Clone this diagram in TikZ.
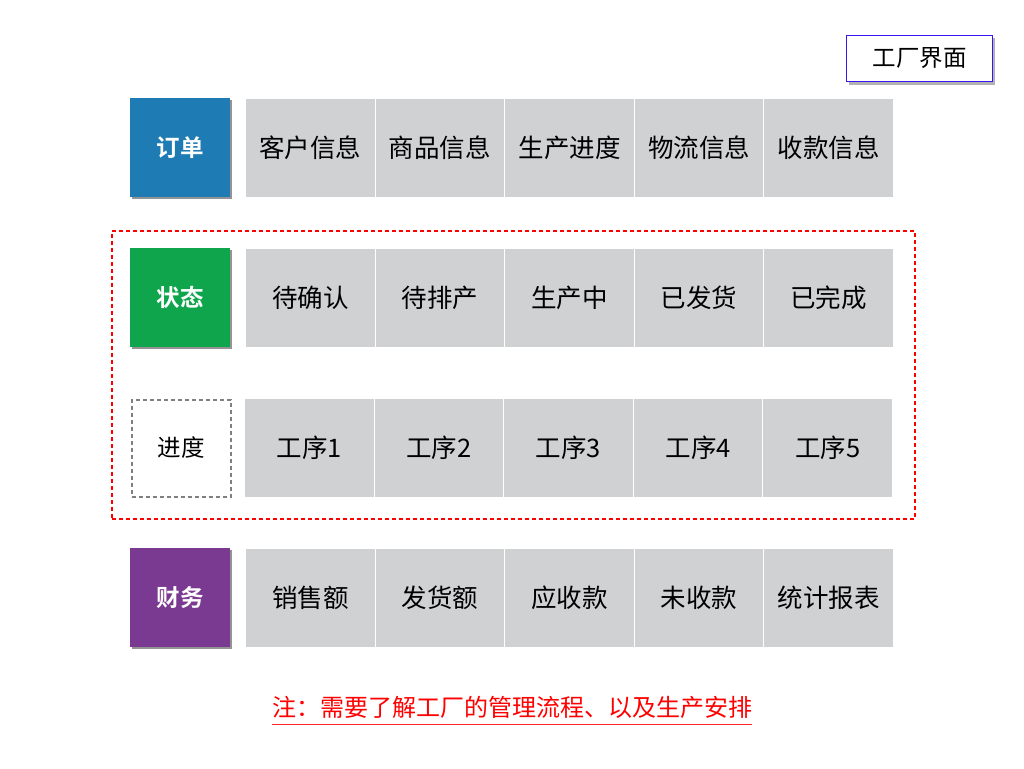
\documentclass[tikz,border=0pt]{standalone}
\usepackage{fontspec}
\setmainfont{Noto Sans CJK SC}
\newfontfamily\cjkb{Noto Sans CJK SC Bold}
\usetikzlibrary{shadows,calc}
\definecolor{cellgray}{RGB}{208,209,211}
\definecolor{ordblue}{RGB}{31,123,179}
\definecolor{stgreen}{RGB}{14,165,76}
\definecolor{finpurple}{RGB}{123,58,145}
\definecolor{boxviolet}{RGB}{60,20,240}
\tikzset{
  cell/.style={draw=white, line width=1pt, fill=cellgray, minimum width=129.6pt, minimum height=99pt, inner sep=0pt, anchor=north west, font=\fontsize{25.5}{25.5}\selectfont},
  lab/.style={minimum width=100pt, minimum height=99pt, inner sep=0pt, anchor=north west, text=white, font=\cjkb\fontsize{23.5}{23.5}\selectfont, drop shadow={shadow xshift=2pt, shadow yshift=-2pt, opacity=0.6, fill=black!70}},
  dashlab/.style={minimum width=99pt, minimum height=97pt, inner sep=0pt, anchor=north west, draw=black!50, line width=2pt, dash pattern=on 4pt off 3pt, font=\fontsize{23.5}{23.5}\selectfont},
}
\begin{document}
\begin{tikzpicture}[x=1pt,y=-1pt]
\useasboundingbox (0,0) rectangle (1024,768);
% title box
\node[draw=boxviolet, line width=1.5pt, fill=white, minimum width=146pt, minimum height=46pt, inner sep=0pt,
  drop shadow={shadow xshift=2pt, shadow yshift=-3pt, opacity=0.5, fill=black!60},
  font=\fontsize{23.5}{23.5}\selectfont] (title) at (919.5,58.5) {工厂界面};
% dashed frame
\node[draw=red, line width=2.2pt, dash pattern=on 4pt off 3pt, minimum width=803pt, minimum height=288pt, inner sep=0pt, anchor=north west] (frame) at (110.5,229.5) {};
% left labels
\node[lab, fill=ordblue] (order) at (130,98) {订单};
\node[lab, fill=stgreen] (status) at (130,248) {状态};
\node[dashlab] (prog) at (130.5,398.5) {进度};
\node[lab, fill=finpurple] (fin) at (130,548) {财务};
% rows
\foreach \t [count=\i from 0] in {客户信息,商品信息,生产进度,物流信息,收款信息}
  \node[cell] (r1c\i) at (245+129.6*\i,97.5) {\t};
\foreach \t [count=\i from 0] in {待确认,待排产,生产中,已发货,已完成}
  \node[cell] (r2c\i) at (245+129.6*\i,247.5) {\t};
\foreach \t [count=\i from 0] in {工序1,工序2,工序3,工序4,工序5}
  \node[cell] (r3c\i) at (244+129.6*\i,397.5) {\t};
\foreach \t [count=\i from 0] in {销售额,发货额,应收款,未收款,统计报表}
  \node[cell] (r4c\i) at (245+129.6*\i,548) {\t};
% note
\node[text=red, inner sep=0pt, font=\fontsize{24}{24}\selectfont] (note) at (512,707) {注：需要了解工厂的管理流程、以及生产安排};
\draw[red!85, line width=1.4pt] ($(note.south west)+(0,6)$) -- ($(note.south east)+(0,6)$);
\end{tikzpicture}
\end{document}
